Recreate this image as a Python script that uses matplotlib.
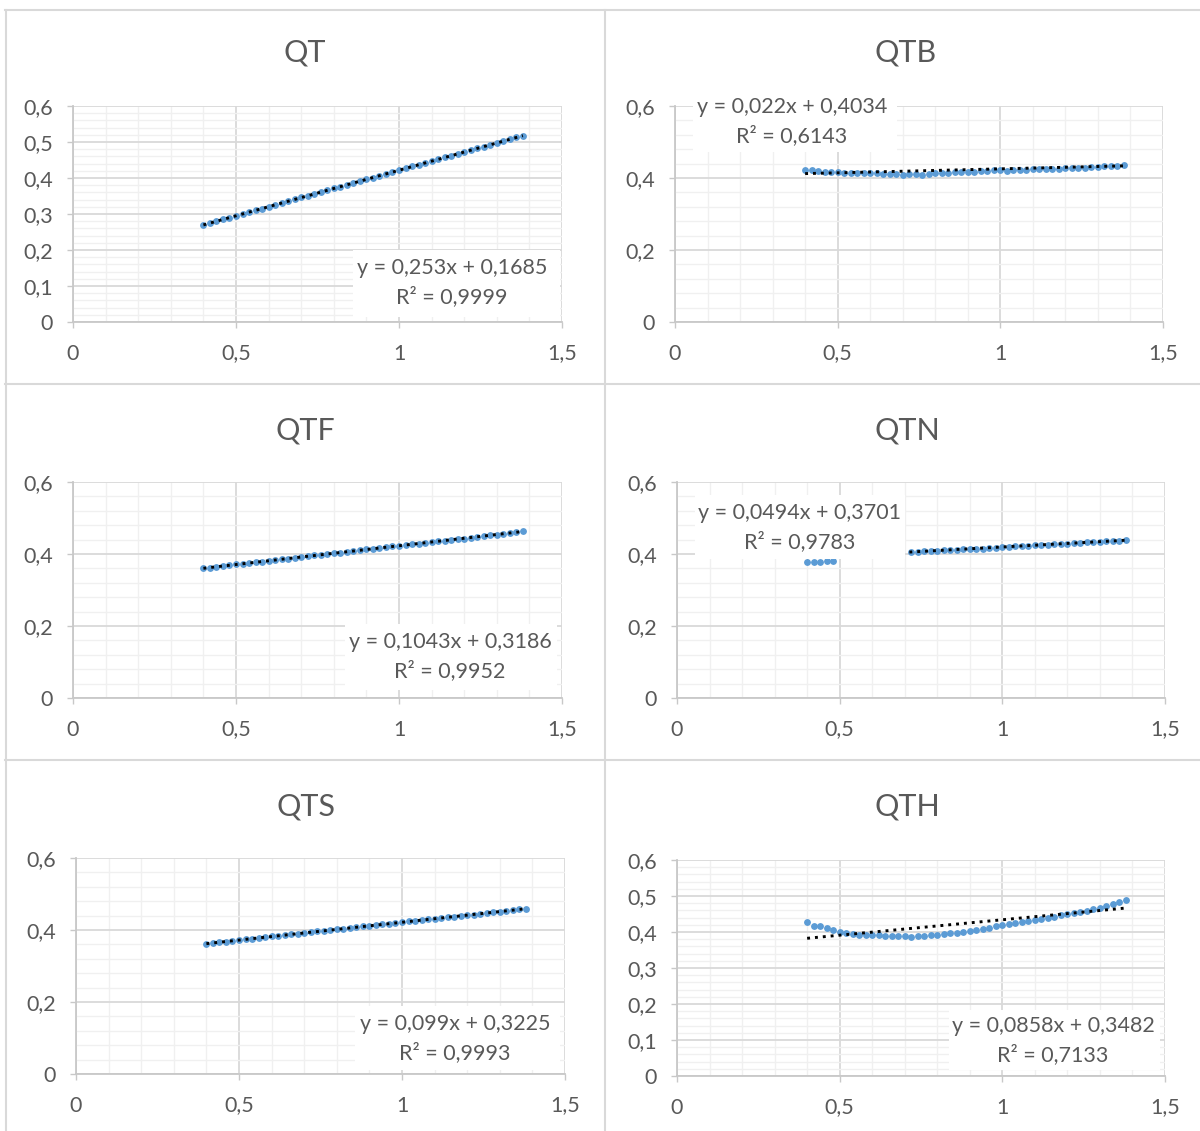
import matplotlib
matplotlib.use("Agg")
import matplotlib.pyplot as plt
from matplotlib.patches import Rectangle
from matplotlib.ticker import MultipleLocator, FuncFormatter

plt.rcParams['font.family'] = ['Lato', 'DejaVu Sans']

# ---- data -------------------------------------------------------------
titles = ["QT", "QTB", "QTF", "QTN", "QTS", "QTH"]

x_full = [0.40, 0.42, 0.44, 0.46, 0.48, 0.50, 0.52, 0.54, 0.56, 0.58,
          0.60, 0.62, 0.64, 0.66, 0.68, 0.70, 0.72, 0.74, 0.76, 0.78,
          0.80, 0.82, 0.84, 0.86, 0.88, 0.90, 0.92, 0.94, 0.96, 0.98,
          1.00, 1.02, 1.04, 1.06, 1.08, 1.10, 1.12, 1.14, 1.16, 1.18,
          1.20, 1.22, 1.24, 1.26, 1.28, 1.30, 1.32, 1.34, 1.36, 1.38]

qt_y = [0.270, 0.275, 0.280, 0.285, 0.290, 0.295, 0.300, 0.305, 0.310, 0.315,
        0.320, 0.325, 0.331, 0.336, 0.341, 0.346, 0.351, 0.356, 0.361, 0.366,
        0.371, 0.376, 0.381, 0.386, 0.391, 0.396, 0.401, 0.406, 0.411, 0.416,
        0.422, 0.427, 0.432, 0.437, 0.442, 0.447, 0.452, 0.457, 0.462, 0.467,
        0.472, 0.477, 0.482, 0.487, 0.492, 0.497, 0.503, 0.508, 0.513, 0.518]

qtb_y = [0.421, 0.421, 0.420, 0.418, 0.417, 0.416, 0.415, 0.415, 0.415, 0.415,
         0.415, 0.414, 0.412, 0.410, 0.410, 0.409, 0.410, 0.411, 0.409, 0.412,
         0.413, 0.414, 0.415, 0.416, 0.417, 0.418, 0.418, 0.419, 0.420, 0.421,
         0.421, 0.420, 0.422, 0.423, 0.423, 0.424, 0.424, 0.424, 0.425, 0.426,
         0.427, 0.428, 0.428, 0.429, 0.430, 0.431, 0.432, 0.433, 0.434, 0.435]

qtf_y = [0.361, 0.362, 0.364, 0.367, 0.369, 0.371, 0.373, 0.375, 0.377, 0.379,
         0.381, 0.383, 0.385, 0.387, 0.389, 0.392, 0.394, 0.396, 0.398, 0.400,
         0.402, 0.404, 0.406, 0.408, 0.411, 0.413, 0.415, 0.417, 0.419, 0.421,
         0.423, 0.425, 0.427, 0.429, 0.431, 0.433, 0.435, 0.437, 0.439, 0.441,
         0.443, 0.445, 0.448, 0.450, 0.452, 0.454, 0.456, 0.458, 0.460, 0.463]

qtn_x = [0.40, 0.42, 0.44, 0.46, 0.48,
         0.72, 0.74, 0.76, 0.78, 0.80, 0.82, 0.84, 0.86, 0.88, 0.90,
         0.92, 0.94, 0.96, 0.98, 1.00, 1.02, 1.04, 1.06, 1.08, 1.10,
         1.12, 1.14, 1.16, 1.18, 1.20, 1.22, 1.24, 1.26, 1.28, 1.30,
         1.32, 1.34, 1.36, 1.38]
qtn_y = [0.379, 0.379, 0.379, 0.380, 0.380,
         0.405, 0.406, 0.407, 0.407, 0.409, 0.410, 0.411, 0.412, 0.413, 0.414,
         0.414, 0.415, 0.417, 0.418, 0.419, 0.420, 0.421, 0.422, 0.423, 0.424,
         0.425, 0.426, 0.427, 0.428, 0.429, 0.430, 0.431, 0.432, 0.433, 0.434,
         0.435, 0.436, 0.437, 0.438]

qts_y = [0.362, 0.364, 0.366, 0.368, 0.370, 0.372, 0.374, 0.376, 0.378, 0.380,
         0.382, 0.384, 0.386, 0.388, 0.390, 0.392, 0.394, 0.396, 0.398, 0.400,
         0.402, 0.404, 0.406, 0.408, 0.410, 0.412, 0.414, 0.416, 0.418, 0.420,
         0.422, 0.424, 0.426, 0.428, 0.430, 0.431, 0.433, 0.435, 0.437, 0.439,
         0.441, 0.443, 0.445, 0.447, 0.449, 0.451, 0.453, 0.455, 0.457, 0.459]

qth_y = [0.428, 0.418, 0.416, 0.410, 0.406, 0.401, 0.398, 0.394, 0.393, 0.392,
         0.393, 0.391, 0.389, 0.388, 0.388, 0.388, 0.387, 0.388, 0.390, 0.392,
         0.392, 0.394, 0.396, 0.398, 0.400, 0.403, 0.406, 0.409, 0.412, 0.416,
         0.419, 0.422, 0.425, 0.428, 0.431, 0.434, 0.437, 0.440, 0.443, 0.446,
         0.449, 0.452, 0.456, 0.459, 0.463, 0.467, 0.472, 0.477, 0.483, 0.488]

series_x = [x_full, x_full, x_full, qtn_x, x_full, x_full]
series_y = [qt_y, qtb_y, qtf_y, qtn_y, qts_y, qth_y]

# linear trendline coefficients and R^2
slopes = [0.253, 0.022, 0.1043, 0.0494, 0.099, 0.0858]
intercepts = [0.1685, 0.4034, 0.3186, 0.3701, 0.3225, 0.3482]
r_squared = [0.9999, 0.6143, 0.9952, 0.9783, 0.9993, 0.7133]

y_major = [0.1, 0.2, 0.2, 0.2, 0.2, 0.1]

# ---- layout (pixels) --------------------------------------------------
W, H = 1200, 1131
# plot area: x0, x1, ytop, ybottom
plot_px = [(73, 562, 106, 322), (675, 1163, 106, 322),
           (73, 562, 482, 698), (677, 1165, 482, 698),
           (76, 565, 858, 1074), (677, 1165, 860, 1076)]
title_px = [(305, 52), (906, 52), (305, 430), (907, 430), (306, 806), (907, 806)]
# equation box: x0, x1, ytop, ybottom ; text centre x, line1 y, line2 y
box_px = [(353, 560, 250, 317), (693, 897, 92, 152),
          (345, 557, 624, 690), (695, 905, 495, 559),
          (355, 560, 1006, 1070), (949, 1160, 1010, 1070)]
eq_px = [(452, 268, 297), (792, 107, 136), (450, 642, 671),
         (800, 513, 542), (455, 1024, 1053), (1053, 1026, 1055)]

TEXT = "#595959"
MAJOR = "#D9D9D9"
MINOR = "#F0F0F0"
AXIS = "#C8C8C8"
BLUE = "#5B9BD5"

fig = plt.figure(figsize=(W / 100, H / 100), dpi=100)
fig.patch.set_facecolor("white")

# panel frames
frame_kw = dict(color="#D9D9D9", lw=1.5, transform=fig.transFigure)
def hline(y, x0, x1):
    fig.add_artist(plt.Line2D([x0 / W, x1 / W], [1 - y / H, 1 - y / H], **frame_kw))
def vline(x, y0, y1):
    fig.add_artist(plt.Line2D([x / W, x / W], [1 - y0 / H, 1 - y1 / H], **frame_kw))

hline(9.5, 5, 1200)
hline(384, 5, 1200)
hline(760, 5, 1200)
vline(5.5, 9.5, 1131)
vline(604.5, 9.5, 1131)


def fmt(v, pos=None):
    s = f"{v:.1f}".rstrip("0").rstrip(".")
    if s in ("-0", ""):
        s = "0"
    return s.replace(".", ",")


for i in range(6):
    x0, x1, yt, yb = plot_px[i]
    ax = fig.add_axes([x0 / W, 1 - yb / H, (x1 - x0) / W, (yb - yt) / H])
    ax.set_xlim(0, 1.5)
    ax.set_ylim(0, 0.6)
    ax.set_axisbelow(True)
    ax.xaxis.set_major_locator(MultipleLocator(0.5))
    ax.xaxis.set_minor_locator(MultipleLocator(0.1))
    ax.yaxis.set_major_locator(MultipleLocator(y_major[i]))
    ax.yaxis.set_minor_locator(MultipleLocator(y_major[i] / 5))
    ax.xaxis.set_major_formatter(FuncFormatter(fmt))
    ax.yaxis.set_major_formatter(FuncFormatter(fmt))
    ax.grid(which="major", color=MAJOR, lw=1.3)
    ax.grid(which="minor", color=MINOR, lw=1.0)
    for side in ("top", "right"):
        ax.spines[side].set_visible(False)
    for side in ("left", "bottom"):
        ax.spines[side].set_color(AXIS)
        ax.spines[side].set_linewidth(1.3)
    ax.tick_params(which="major", length=4.5, width=1.0, color=AXIS,
                   labelcolor=TEXT, labelsize=15.5)
    ax.tick_params(axis="x", which="major", pad=11)
    ax.tick_params(axis="y", which="major", pad=10)
    ax.tick_params(which="minor", length=0)

    xs, ys = series_x[i], series_y[i]
    ax.plot(xs, ys, ls="none", marker="o", ms=3.9, mfc=BLUE, mec=BLUE,
            zorder=3, clip_on=False)

    xa, xb = min(xs), max(xs)
    ax.plot([xa, xb], [slopes[i] * xa + intercepts[i], slopes[i] * xb + intercepts[i]],
            color="black", lw=2.1, ls=(0, (1, 1.7)), dash_capstyle="butt", zorder=4)

    # equation box
    bx0, bx1, byt, byb = box_px[i]
    fx = lambda px: (px - x0) / (x1 - x0)
    fy = lambda py: (yb - py) / (yb - yt)
    ax.add_patch(Rectangle((fx(bx0), fy(byb)), fx(bx1) - fx(bx0), fy(byt) - fy(byb),
                           transform=ax.transAxes, facecolor="white",
                           edgecolor="none", zorder=5, clip_on=False))
    cx, l1, l2 = eq_px[i]
    slope_s = str(slopes[i]).replace(".", ",")
    icpt_s = str(intercepts[i]).replace(".", ",")
    r2_s = str(r_squared[i]).replace(".", ",")
    ax.text(fx(cx), fy(l1), f"y = {slope_s}x + {icpt_s}", transform=ax.transAxes,
            ha="center", va="center", fontsize=15.5, color=TEXT, zorder=6)
    ax.text(fx(cx), fy(l2), f"R² = {r2_s}", transform=ax.transAxes,
            ha="center", va="center", fontsize=15.5, color=TEXT, zorder=6)

    tx, ty = title_px[i]
    fig.text(tx / W, 1 - ty / H, titles[i], ha="center", va="center",
             fontsize=22, color=TEXT)

fig.savefig("out.png", dpi=100, facecolor="white")
